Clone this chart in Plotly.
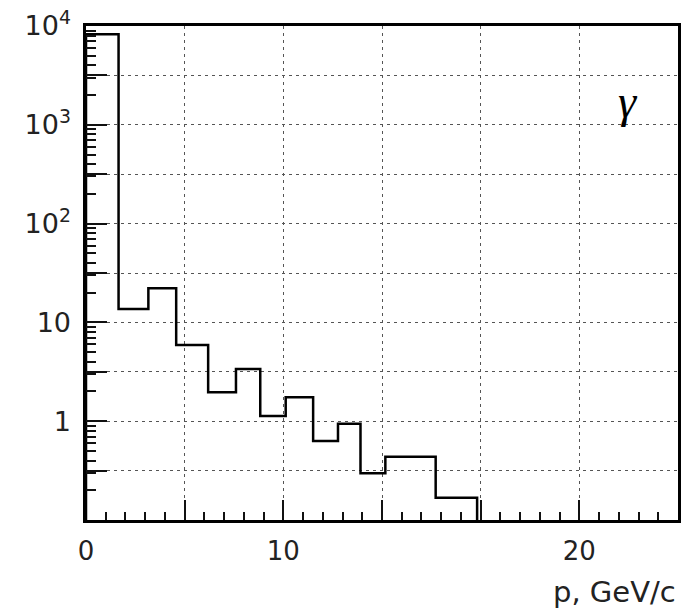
import plotly.graph_objects as go

# ---- data ----
bin_edges = [0.0, 1.65, 3.16, 4.57, 6.19, 7.60, 8.83, 10.12, 11.51, 12.77, 13.91, 15.17, 17.72, 19.82]
counts = [8240, 13.7, 22.1, 5.9, 1.96, 3.38, 1.13, 1.75, 0.63, 0.94, 0.297, 0.437, 0.168]
y_floor = 0.1

x_tickvals = [0, 5, 10, 15, 20, 25]
x_ticktext = ["0", "", "10", "", "", "20"]
y_label_vals = [1, 10, 100, 1000, 10000]
y_label_text = ["1", "10", "10<sup>2</sup>", "10<sup>3</sup>", "10<sup>4</sup>"]

FONT = "DejaVu Sans"
TXT = "#222222"

xs = [bin_edges[0]] + bin_edges
ys = [y_floor] + counts + [y_floor]

fig = go.Figure()
# invisible copy that carries the label overlay axis
fig.add_trace(go.Scatter(x=xs, y=ys, yaxis="y2", mode="lines", line=dict(color="rgba(0,0,0,0)", width=0),
                         showlegend=False, hoverinfo="skip"))
fig.add_trace(go.Scatter(x=xs, y=ys, mode="lines", line=dict(color="black", width=2.5, shape="hv"),
                         showlegend=False, hoverinfo="skip"))

grid = dict(showgrid=True, gridcolor="#555555", gridwidth=1, griddash="3px,4px")

fig.update_xaxes(range=[0, 30], tickvals=x_tickvals, ticktext=x_ticktext,
                 ticks="inside", ticklen=20, tickwidth=2, tickcolor="#111111",
                 minor=dict(dtick=1, ticks="inside", ticklen=8, tickwidth=1.5, tickcolor="#111111", showgrid=False),
                 showline=True, linecolor="black", linewidth=2.5, mirror=True, zeroline=False,
                 tickfont=dict(family=FONT, size=26, color=TXT), ticklabelstandoff=6,
                 **grid)
fig.update_layout(
    yaxis=dict(type="log", range=[-1, 4], tickmode="linear", tick0=0, dtick=0.5,
               ticks="inside", ticklen=21, tickwidth=2, tickcolor="#111111",
               minor=dict(dtick="D1", ticks="inside", ticklen=10, tickwidth=1.5, tickcolor="#111111", showgrid=False),
               showticklabels=False,
               showline=True, linecolor="black", linewidth=2.5, mirror=True, zeroline=False,
               **grid),
    yaxis2=dict(type="log", range=[-1, 4], overlaying="y", side="left", anchor="x",
                tickvals=y_label_vals, ticktext=y_label_text, ticks="",
                tickfont=dict(family=FONT, size=27, color=TXT), ticklabelstandoff=14,
                showgrid=False, showline=False, zeroline=False),
)

fig.add_annotation(text="p, GeV/c", xref="paper", yref="paper", x=1.0, y=-0.146,
                   xanchor="right", yanchor="middle", showarrow=False,
                   font=dict(family=FONT, size=29, color=TXT))
fig.add_annotation(text="<i>γ</i>", xref="paper", yref="paper", x=0.915, y=0.848,
                   xanchor="center", yanchor="middle", showarrow=False,
                   font=dict(family="Liberation Serif", size=46, color="black"))

fig.update_layout(width=687, height=611, margin=dict(l=86, r=6, t=26, b=91),
                  plot_bgcolor="white", paper_bgcolor="white")

fig.write_html("out.html")
